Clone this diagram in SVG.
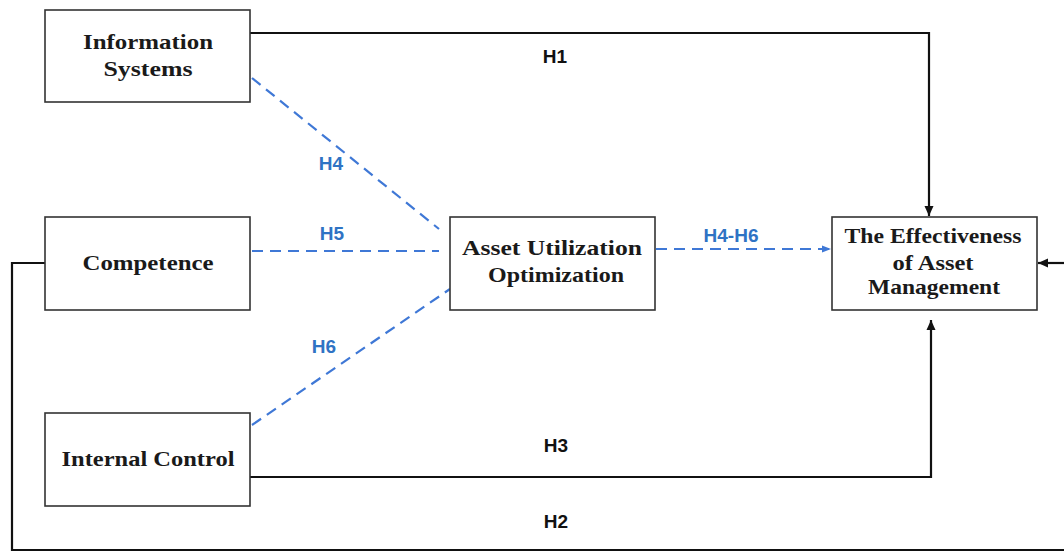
<svg xmlns="http://www.w3.org/2000/svg" width="1064" height="552" viewBox="0 0 1064 552">
<style>
.box{fill:#fff;stroke:#333;stroke-width:1.6}
.nt{font-family:"Liberation Serif","Times New Roman",serif;font-weight:bold;font-size:21px;fill:#1a1a1a;text-anchor:middle}
.solid{fill:none;stroke:#111;stroke-width:2.2}
.dash{fill:none;stroke:#3f78d6;stroke-width:2.2;stroke-dasharray:11 7}
.lb{font-family:"Liberation Sans",Arial,sans-serif;font-weight:bold;font-size:19px;fill:#111;text-anchor:middle}
.lbb{font-family:"Liberation Sans",Arial,sans-serif;font-weight:bold;font-size:19px;fill:#2f73c4;text-anchor:middle}
</style>
<defs>
<marker id="ab" viewBox="0 0 10 10" refX="10" refY="5" markerWidth="10" markerHeight="10" markerUnits="userSpaceOnUse" orient="auto">
<path d="M0,0.5 L10,5 L0,9.5 Z" fill="#111"/>
</marker>
<marker id="abl" viewBox="0 0 10 10" refX="10" refY="5" markerWidth="9" markerHeight="9" markerUnits="userSpaceOnUse" orient="auto">
<path d="M0,1 L10,5 L0,9 Z" fill="#3f78d6"/>
</marker>
</defs>
<g id="connectors">
<path class="solid" d="M250,33 H929 V216" marker-end="url(#ab)"/>
<path class="solid" d="M250,477 H931 V320" marker-end="url(#ab)"/>
<path class="solid" d="M45,263 H12 V550 H1064"/>
<path class="solid" d="M1064,263 H1038" marker-end="url(#ab)"/>
<path class="dash" d="M252,78 L439,229"/>
<path class="dash" d="M252,251 H439"/>
<path class="dash" d="M252,425 L450,289"/>
<path class="dash" d="M656,249 H831" marker-end="url(#abl)"/>
<text class="lb" x="555" y="63">H1</text>
<text class="lb" x="556" y="452">H3</text>
<text class="lb" x="556" y="528">H2</text>
<text class="lbb" x="331" y="170">H4</text>
<text class="lbb" x="332" y="240">H5</text>
<text class="lbb" x="324" y="353">H6</text>
<text class="lbb" x="731" y="242">H4-H6</text>
</g>
<g id="information-systems">
<rect class="box" x="45" y="10" width="205" height="92"/>
<text class="nt" x="148" y="49" textLength="130" lengthAdjust="spacingAndGlyphs">Information</text>
<text class="nt" x="148" y="76" textLength="89" lengthAdjust="spacingAndGlyphs">Systems</text>
</g>
<g id="competence">
<rect class="box" x="45" y="217" width="205" height="93"/>
<text class="nt" x="148" y="270" textLength="131" lengthAdjust="spacingAndGlyphs">Competence</text>
</g>
<g id="internal-control">
<rect class="box" x="45" y="413" width="205" height="93"/>
<text class="nt" x="148" y="466" textLength="173" lengthAdjust="spacingAndGlyphs">Internal Control</text>
</g>
<g id="asset-utilization">
<rect class="box" x="450" y="217" width="205" height="93"/>
<text class="nt" x="552" y="255" textLength="180" lengthAdjust="spacingAndGlyphs">Asset Utilization</text>
<text class="nt" x="556" y="282" textLength="136" lengthAdjust="spacingAndGlyphs">Optimization</text>
</g>
<g id="effectiveness">
<rect class="box" x="832" y="217" width="205" height="93"/>
<text class="nt" x="933" y="243" textLength="177" lengthAdjust="spacingAndGlyphs">The Effectiveness</text>
<text class="nt" x="933" y="270" textLength="81" lengthAdjust="spacingAndGlyphs">of Asset</text>
<text class="nt" x="934" y="294" textLength="132" lengthAdjust="spacingAndGlyphs">Management</text>
</g>
</svg>
